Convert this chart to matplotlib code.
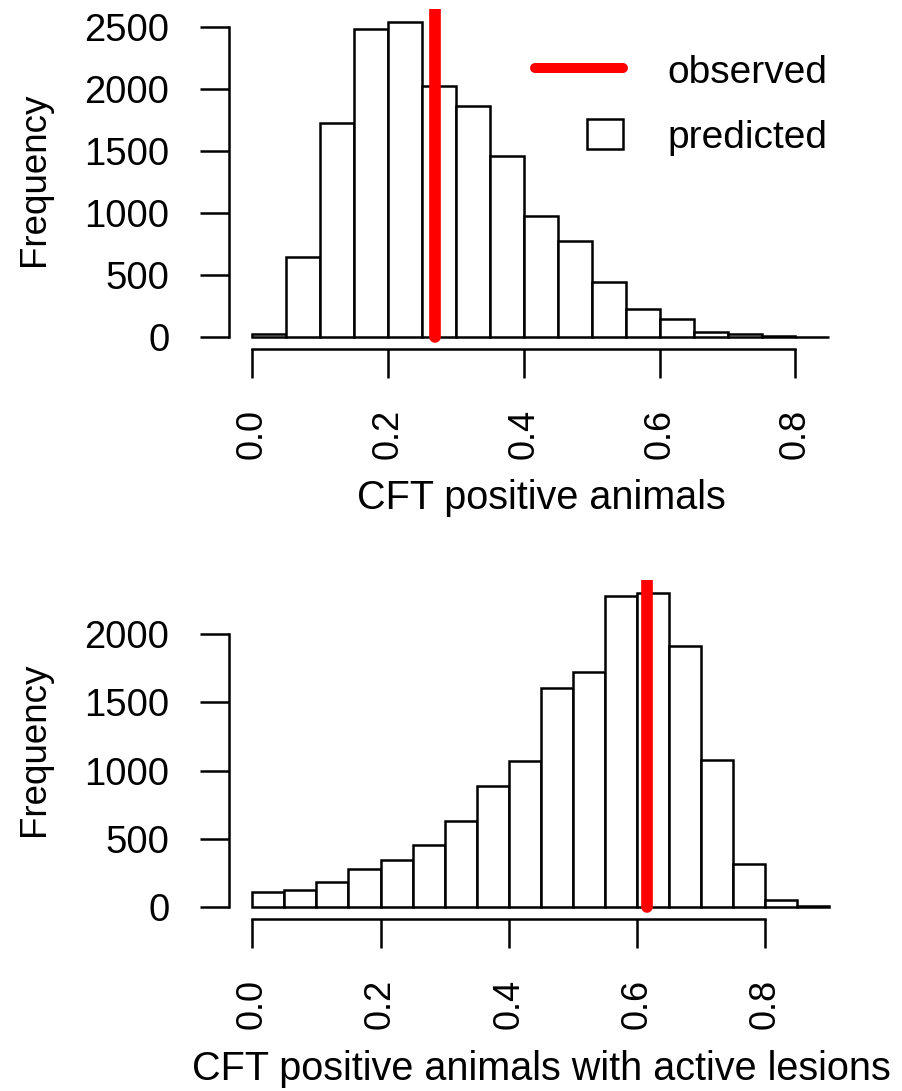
import matplotlib
matplotlib.use("Agg")
import matplotlib.pyplot as plt
import numpy as np
from matplotlib.patches import Rectangle
from matplotlib.lines import Line2D

plt.rcParams['font.family'] = ['Liberation Sans', 'DejaVu Sans']

# ---- data ----
bin_width = 0.05
top_counts = [20, 645, 1720, 2480, 2540, 2025, 1860, 1460, 970, 775, 445, 225, 140, 35, 20, 5, 0]
bottom_counts = [105, 122, 179, 274, 343, 450, 631, 886, 1072, 1608, 1725, 2283, 2305, 1911, 1077, 313, 49, 5]
top_observed = 0.269
bottom_observed = 0.615
top_xlabel = "CFT positive animals"
bottom_xlabel = "CFT positive animals with active lesions"
x_ticks = [0.0, 0.2, 0.4, 0.6, 0.8]
x_ticklabels = ["0.0", "0.2", "0.4", "0.6", "0.8"]
top_yticks = [0, 500, 1000, 1500, 2000, 2500]
bottom_yticks = [0, 500, 1000, 1500, 2000]
legend_labels = ["observed", "predicted"]

W, H = 903, 1091
fig = plt.figure(figsize=(W / 100, H / 100), dpi=100)

FS_X = 26      # rotated x tick labels
FS_Y = 27.5    # horizontal y tick labels
FS_LAB = 28.5  # x axis titles
FS_FREQ = 26.5
FS_LEG = 28
LW = 1.8
TICKLEN = 21
PAD = 22


def fx(px):
    return px / W


def fy(py):
    return 1 - py / H


def panel(rect, counts, observed, yticks, xlabel, xlabel_base):
    ax = fig.add_axes(rect)
    n = len(counts)
    edges = np.arange(n) * bin_width
    ax.bar(edges, counts, width=bin_width, align='edge', color='white',
           edgecolor='black', linewidth=LW, zorder=2)
    xmax = n * bin_width
    ymax = max(counts)
    ax.set_xlim(-0.04 * xmax, 1.04 * xmax)
    ax.set_ylim(-0.04 * ymax, 1.04 * ymax)
    ax.plot([observed, observed], [0, ymax * 2], color='red', linewidth=8.4,
            solid_capstyle='round', zorder=3)
    for s in ['top', 'right']:
        ax.spines[s].set_visible(False)
    ax.spines['left'].set_bounds(yticks[0], yticks[-1])
    ax.spines['bottom'].set_bounds(x_ticks[0], x_ticks[-1])
    for s in ['left', 'bottom']:
        ax.spines[s].set_linewidth(LW)
    ax.set_xticks(x_ticks)
    ax.set_xticklabels(x_ticklabels, rotation=90)
    ax.set_yticks(yticks)
    ax.set_yticklabels([str(v) for v in yticks])
    ax.tick_params(axis='both', length=TICKLEN, width=LW, pad=PAD)
    ax.tick_params(axis='x', labelsize=FS_X)
    ax.tick_params(axis='y', labelsize=FS_Y)
    ax.patch.set_visible(False)
    cy = (rect[1] + rect[3] / 2)
    fig.text(fx(35), cy, "Frequency", rotation=90, ha='center', va='center', fontsize=FS_FREQ)
    fig.text(fx(541), fy(xlabel_base), xlabel, ha='center', va='baseline', fontsize=FS_LAB)
    return ax


left = 229.2
right = 852.5
ax1 = panel([fx(left), fy(349.3), (right - left) / W, (349.3 - 9.1) / H],
            top_counts, top_observed, top_yticks, top_xlabel, 509.3)
ax2 = panel([fx(left), fy(919.3), (right - left) / W, (919.3 - 580.2) / H],
            bottom_counts, bottom_observed, bottom_yticks, bottom_xlabel, 1080)

# legend (top panel)
def ax_frac(px, py):
    return ((px - left) / (right - left), (349.3 - py) / (349.3 - 9.1))

x0, y0 = ax_frac(535, 68)
x1, _ = ax_frac(623, 68)
ax1.add_line(Line2D([x0, x1], [y0, y0], transform=ax1.transAxes, color='red',
                    linewidth=7.2, solid_capstyle='round', clip_on=False))
bx0, by0 = ax_frac(587, 149)
bx1, by1 = ax_frac(623, 119)
ax1.add_patch(Rectangle((bx0, by0), bx1 - bx0, by1 - by0, transform=ax1.transAxes,
                        facecolor='white', edgecolor='black', linewidth=LW, clip_on=False))
tx, ty1 = ax_frac(667, 82.7)
_, ty2 = ax_frac(667, 148.3)
ax1.text(tx, ty1, legend_labels[0], transform=ax1.transAxes, fontsize=FS_LEG, va='baseline', ha='left')
ax1.text(tx, ty2, legend_labels[1], transform=ax1.transAxes, fontsize=FS_LEG, va='baseline', ha='left')

fig.savefig("out.png", dpi=100)
